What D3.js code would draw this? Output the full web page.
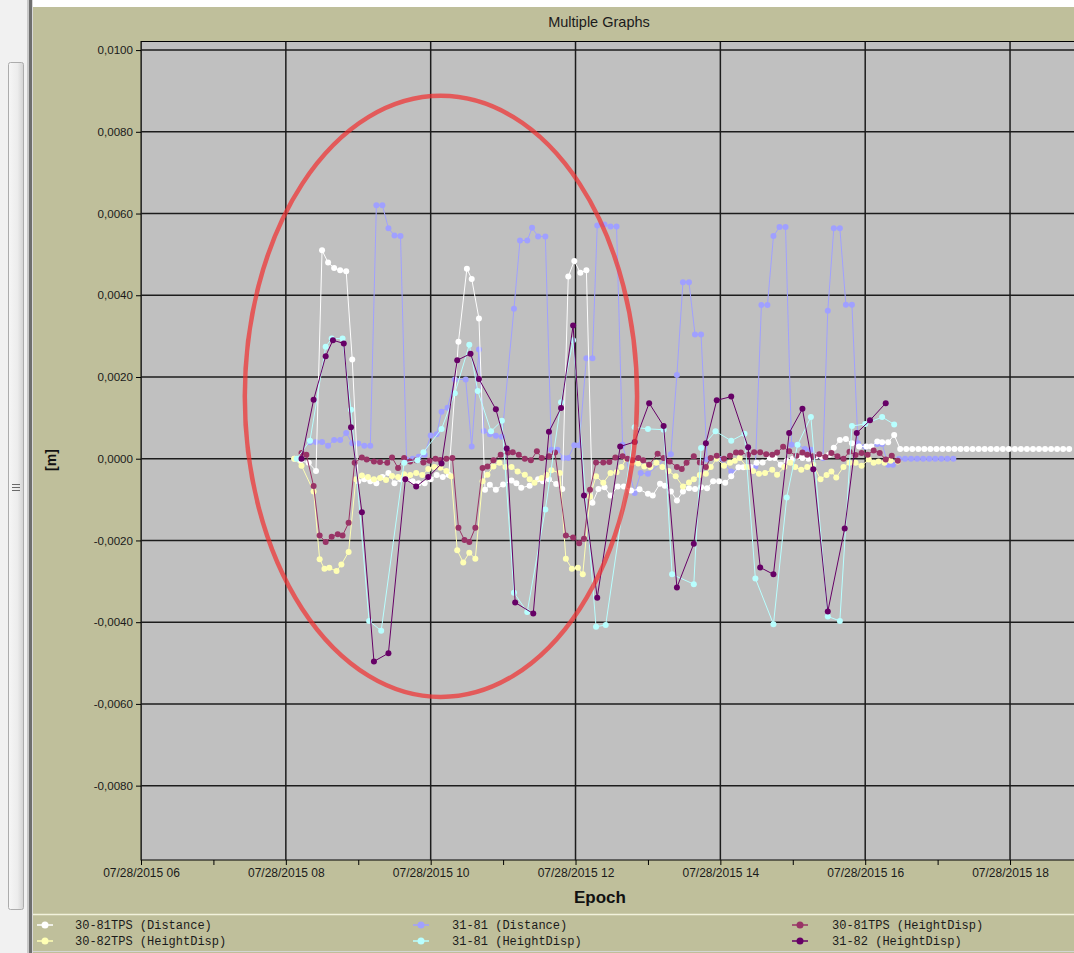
<!DOCTYPE html>
<html lang="en">
<head>
    <meta charset="UTF-8">
    <title>Multiple Graphs</title>
    <script src="https://d3js.org/d3.v7.min.js"></script>
    <style>
        body {
            margin: 0;
            background: #fff;
            overflow: hidden;
        }
        svg {
            display: block;
            font-family: "Liberation Sans", Arial, sans-serif;
        }
        .axis text {
            font-size: 12px;
            fill: #1a1a1a;
        }
        .axis.y text {
            font-size: 11.6px;
        }
        .axis line {
            stroke: #000;
        }
        .legend text {
            font-family: "Liberation Mono", "Courier New", monospace;
            font-size: 12px;
            fill: #1a1a1a;
        }
    </style>
</head>
<body>
<div id="chart"></div>
<script>

    // ---- data (time of day on 07/28/2015, value in m) ----
    var day = "07/28/2015 ";

    // 30-81TPS (Distance)
    var dist3081 = [
        ["08:07", 0.0000], ["08:12", -0.00005], ["08:19", -0.0001], ["08:25", -0.0003],
        ["08:30", 0.0051], ["08:35", 0.0048], ["08:40", 0.00467], ["08:45", 0.00461],
        ["08:50", 0.00459], ["08:55", 0.00243], ["09:00", -0.00055], ["09:05", -0.0005],
        ["09:10", -0.00055], ["09:15", -0.0006], ["09:20", -0.00045], ["09:25", -0.00035],
        ["09:30", -0.0006], ["09:35", -0.0005], ["09:40", -0.0005], ["09:45", -0.00055],
        ["09:50", -0.0006], ["09:55", -0.0006], ["10:00", -0.0005], ["10:05", -0.0004],
        ["10:10", -0.00045], ["10:15", -0.0004], ["10:23", 0.00286], ["10:30", 0.00465],
        ["10:34", 0.0044], ["10:40", 0.00343], ["10:45", -0.00076], ["10:49", -0.00064],
        ["10:54", -0.00076], ["11:00", -0.00063], ["11:07", -0.00053], ["11:11", -0.0006],
        ["11:15", -0.00071], ["11:22", -0.00066], ["11:29", -0.0005], ["11:33", -0.00055],
        ["11:38", -0.0005], ["11:44", -0.00062], ["11:49", -0.00074], ["11:54", 0.00446],
        ["11:59", 0.00484], ["12:04", 0.00455], ["12:09", 0.00461], ["12:14", -0.00108],
        ["12:19", -0.00074], ["12:24", -0.0007], ["12:29", -0.0009], ["12:35", -0.00068],
        ["12:40", -0.00068], ["12:46", -0.00078], ["12:53", -0.00075], ["13:00", -0.00086],
        ["13:04", -0.0009], ["13:10", -0.00061], ["13:14", -0.00066], ["13:19", -0.0008],
        ["13:24", -0.00102], ["13:29", -0.0008], ["13:34", -0.00072], ["13:39", -0.00074],
        ["13:44", -0.0007], ["13:49", -0.00072], ["13:54", -0.00055], ["13:59", -0.00055],
        ["14:04", -0.00059], ["14:09", -0.00043], ["14:15", -0.00021], ["14:19", -0.00021],
        ["14:25", -0.0002], ["14:30", -0.0001], ["14:35", -0.00009], ["14:41", 0.00002],
        ["14:45", 0.00002], ["14:50", -0.00015], ["14:55", -0.00005], ["15:00", 0.0],
        ["15:04", 0.00005], ["15:08", 0.00002], ["15:13", 0.0], ["15:19", 0.00006],
        ["15:24", 0.00005], ["15:30", 0.0001], ["15:34", 0.00027], ["15:39", 0.00046],
        ["15:44", 0.00048], ["15:49", 0.00038], ["15:55", 0.0003], ["16:01", 0.0003],
        ["16:05", 0.0003], ["16:10", 0.00042], ["16:14", 0.0004], ["16:19", 0.0004],
        ["16:24", 0.00058], ["16:29", 0.00024], ["16:34", 0.00024], ["16:39", 0.00024],
        ["16:44", 0.00024], ["16:49", 0.00024], ["16:54", 0.00024], ["16:59", 0.00024],
        ["17:04", 0.00024], ["17:09", 0.00024], ["17:14", 0.00024], ["17:19", 0.00024],
        ["17:24", 0.00024], ["17:29", 0.00024], ["17:34", 0.00024], ["17:39", 0.00024],
        ["17:44", 0.00024], ["17:49", 0.00024], ["17:54", 0.00024], ["17:59", 0.00024],
        ["18:04", 0.00024], ["18:09", 0.00024], ["18:14", 0.00024], ["18:19", 0.00024],
        ["18:24", 0.00024], ["18:29", 0.00024], ["18:34", 0.00024], ["18:39", 0.00024],
        ["18:44", 0.00024], ["18:49", 0.00024]
    ];

    // 31-81 (Distance)
    var dist3181 = [
        ["08:20", 0.0004], ["08:25", 0.00041], ["08:30", 0.00041], ["08:35", 0.00032],
        ["08:40", 0.00046], ["08:45", 0.00046], ["08:50", 0.00063], ["08:55", 0.00038],
        ["09:00", 0.00037], ["09:05", 0.00032], ["09:10", 0.00032], ["09:15", 0.0062],
        ["09:20", 0.0062], ["09:25", 0.00564], ["09:30", 0.00546], ["09:35", 0.00545],
        ["09:40", -0.00002], ["09:45", 0.0], ["09:50", 0.00005], ["09:55", 0.0001],
        ["10:00", 0.00057], ["10:05", 0.0006], ["10:09", 0.00115], ["10:14", 0.00125],
        ["10:20", 0.00194], ["10:29", 0.00194], ["10:34", 0.0003], ["10:40", 0.00267],
        ["10:44", 0.00068], ["10:49", 0.0006], ["10:54", 0.00056], ["10:59", 0.00054],
        ["11:09", 0.00367], ["11:14", 0.00534], ["11:20", 0.00534], ["11:24", 0.00565],
        ["11:29", 0.00544], ["11:35", 0.00544], ["11:40", 0.00022], ["11:45", 0.00022],
        ["11:50", 0.00002], ["11:54", 0.00002], ["11:59", 0.00033], ["12:03", 0.00033],
        ["12:09", 0.00246], ["12:14", 0.00246], ["12:18", 0.00571], ["12:24", 0.00573],
        ["12:29", 0.00568], ["12:34", 0.00568], ["12:39", 0.00034], ["12:49", -0.00084],
        ["12:54", -0.00035], ["13:00", -0.00037], ["13:19", 0.00011], ["13:24", 0.00205],
        ["13:29", 0.00432], ["13:34", 0.00432], ["13:39", 0.00304], ["13:44", 0.00304],
        ["13:49", -0.00002], ["13:59", 0.0], ["14:09", -0.00031], ["14:24", -0.00019],
        ["14:29", -0.00019], ["14:34", 0.00376], ["14:39", 0.00376], ["14:44", 0.00545],
        ["14:49", 0.00567], ["14:54", 0.00567], ["14:59", 0.00034], ["15:04", 0.00034],
        ["15:10", 0.00024], ["15:15", 0.00022], ["15:20", 0.00007], ["15:25", 0.00002],
        ["15:29", 0.00362], ["15:34", 0.00564], ["15:39", 0.00564], ["15:44", 0.00377],
        ["15:49", 0.00377], ["15:54", 0.00038], ["16:00", 0.00029], ["16:10", 0.00036],
        ["16:14", 0.00036], ["16:19", -0.00015], ["16:23", -0.00015], ["16:28", 0.0],
        ["16:33", 0.0], ["16:38", 0.0], ["16:43", 0.0], ["16:48", 0.0], ["16:53", 0.0],
        ["16:58", 0.0], ["17:03", 0.0], ["17:08", 0.0], ["17:13", 0.0]
    ];

    // 30-81TPS (HeightDisp)
    var hd3081 = [
        ["08:13", 0.00014], ["08:17", 0.0001], ["08:23", -0.00067], ["08:28", -0.00188],
        ["08:33", -0.00204], ["08:38", -0.00191], ["08:43", -0.00185], ["08:47", -0.00188],
        ["08:52", -0.00157], ["08:57", -0.0001], ["09:03", 0.00003], ["09:07", -0.00002],
        ["09:13", -0.00007], ["09:18", -0.00008], ["09:24", -0.0001], ["09:28", 0.00003],
        ["09:33", -0.00023], ["09:38", 0.00002], ["09:43", -0.00007], ["09:48", -0.00004],
        ["09:54", -0.00009], ["09:59", -0.00005], ["10:04", 0.0], ["10:08", -0.00003],
        ["10:13", 0.0], ["10:18", 0.00002], ["10:23", -0.00169], ["10:28", -0.00199],
        ["10:32", -0.00204], ["10:37", -0.00169], ["10:43", -0.00023], ["10:47", -0.00019],
        ["10:52", -0.00004], ["10:58", 0.0001], ["11:04", 0.00015], ["11:08", 0.00016],
        ["11:13", 0.0001], ["11:18", 0.0], ["11:23", -0.00004], ["11:28", 0.00018],
        ["11:32", 0.00002], ["11:38", 0.00006], ["11:43", 0.00015], ["11:52", -0.00188],
        ["11:58", -0.00193], ["12:03", -0.00207], ["12:07", -0.00196], ["12:12", -0.00076],
        ["12:17", -0.00009], ["12:23", -0.00009], ["12:28", -0.00008], ["12:33", 0.00003],
        ["12:39", 0.00006], ["12:43", 0.0], ["12:47", -0.00004], ["12:52", 0.00002],
        ["12:56", -0.00004], ["13:01", -0.00015], ["13:08", 0.00012], ["13:13", 0.00002],
        ["13:18", -0.00007], ["13:24", -0.0002], ["13:28", -0.00025], ["13:32", -0.0001],
        ["13:38", 0.00006], ["13:43", -0.00009], ["13:48", -0.0002], ["13:52", 0.00002],
        ["13:57", 0.00007], ["14:03", 0.0], ["14:08", 0.00007], ["14:13", 0.00015],
        ["14:17", 0.00015], ["14:23", 0.0001], ["14:28", 0.00016], ["14:33", 0.00016],
        ["14:38", 0.00011], ["14:43", 0.0001], ["14:47", 0.00015], ["14:52", 0.00029],
        ["14:57", 0.00018], ["15:03", 0.00007], ["15:08", 0.00015], ["15:12", 0.0001],
        ["15:17", 0.00006], ["15:22", 0.00011], ["15:27", 0.00004], ["15:32", 0.00014],
        ["15:37", 0.00006], ["15:42", 0.0], ["15:47", 0.00017], ["15:52", 0.00009],
        ["15:57", 0.00014], ["16:02", 0.0001], ["16:07", 0.0002], ["16:12", 0.00014],
        ["16:17", -0.00002], ["16:22", 0.00007], ["16:27", -0.00005]
    ];

    // 30-82TPS (HeightDisp)
    var hd3082 = [
        ["08:07", 0.0], ["08:13", -0.00017], ["08:23", -0.0008], ["08:28", -0.00246],
        ["08:32", -0.00269], ["08:36", -0.00267], ["08:42", -0.00275], ["08:46", -0.00259],
        ["08:52", -0.00228], ["08:58", -0.0005], ["09:03", -0.00041], ["09:08", -0.00045],
        ["09:13", -0.0005], ["09:18", -0.00047], ["09:23", -0.00052], ["09:28", -0.00042],
        ["09:33", -0.00045], ["09:38", -0.00038], ["09:43", -0.0004], ["09:48", -0.00035],
        ["09:53", -0.0004], ["09:58", -0.00025], ["10:03", -0.0002], ["10:08", -0.00022],
        ["10:13", -0.0003], ["10:17", -0.00043], ["10:22", -0.00224], ["10:27", -0.00254],
        ["10:32", -0.0023], ["10:37", -0.00245], ["10:43", -0.00055], ["10:47", -0.00039],
        ["10:52", -0.00019], ["10:57", -0.0001], ["11:02", -0.0002], ["11:07", -0.0002],
        ["11:12", -0.00031], ["11:18", -0.00039], ["11:22", -0.0005], ["11:26", -0.00059],
        ["11:32", -0.00047], ["11:36", -0.0004], ["11:40", -0.00028], ["11:47", -0.00035],
        ["11:52", -0.00245], ["11:57", -0.00269], ["12:02", -0.00267], ["12:06", -0.00283],
        ["12:12", -0.00093], ["12:17", -0.00043], ["12:23", -0.00059], ["12:29", -0.00035],
        ["12:34", -0.00033], ["12:38", -0.0002], ["12:42", 0.0], ["12:47", -0.0001],
        ["12:52", -0.00012], ["12:57", -0.00019], ["13:02", -0.0002], ["13:07", -0.0001],
        ["13:12", -0.0002], ["13:17", -0.0003], ["13:23", -0.00043], ["13:29", -0.00068],
        ["13:34", -0.00058], ["13:38", -0.0005], ["13:43", -0.0004], ["13:48", -0.00037],
        ["13:52", -0.0002], ["13:57", 0.0], ["14:03", -0.00017], ["14:08", -0.0001],
        ["14:12", -0.00005], ["14:16", 0.00002], ["14:22", -0.0002], ["14:27", -0.0003],
        ["14:32", -0.00037], ["14:37", -0.00035], ["14:43", -0.00027], ["14:47", -0.00039],
        ["14:53", -0.0002], ["14:58", -0.0001], ["15:02", -0.0002], ["15:07", -0.00027],
        ["15:12", -0.0002], ["15:17", -0.00015], ["15:23", -0.0005], ["15:28", -0.0004],
        ["15:32", -0.00031], ["15:36", -0.00046], ["15:42", -0.0002], ["15:47", -0.0001],
        ["15:52", -0.0001], ["15:57", -0.00017], ["16:03", -0.00002], ["16:07", -0.0001],
        ["16:11", -0.00007], ["16:16", -0.0001], ["16:21", -0.00005], ["16:27", -0.00007]
    ];

    // 31-81 (HeightDisp)
    var hd3181 = [
        ["08:09", 0.0], ["08:20", 0.00044], ["08:33", 0.00274], ["08:38", 0.00294],
        ["08:47", 0.00294], ["08:54", 0.0012], ["09:09", -0.00397], ["09:19", -0.00421],
        ["09:38", -0.0001], ["09:49", -0.00004], ["09:54", 0.00016], ["10:09", 0.00073],
        ["10:20", 0.0016], ["10:32", 0.00279], ["10:39", 0.00166], ["10:50", 0.00067],
        ["10:59", 0.00093], ["11:09", -0.00328], ["11:20", -0.00375], ["11:35", -0.00124],
        ["11:48", 0.00138], ["11:58", 0.0029], ["12:17", -0.00411], ["12:25", -0.00407],
        ["12:49", 0.00077], ["13:00", 0.00073], ["13:13", 0.00071], ["13:20", -0.00283],
        ["13:38", -0.00307], ["13:44", 0.00026], ["13:56", 0.00067], ["14:09", 0.00044],
        ["14:20", 0.00061], ["14:29", -0.00293], ["14:44", -0.00405], ["14:55", -0.00095],
        ["15:04", 0.00034], ["15:15", 0.00102], ["15:29", -0.00386], ["15:39", -0.00397],
        ["15:49", 0.0008], ["16:00", 0.00085], ["16:14", 0.00102], ["16:24", 0.00084]
    ];

    // 31-82 (HeightDisp)
    var hd3182 = [
        ["08:13", 0.0], ["08:23", 0.00144], ["08:33", 0.00251], ["08:39", 0.0029],
        ["08:48", 0.00282], ["08:54", 0.00077], ["09:03", -0.00131], ["09:13", -0.00496],
        ["09:25", -0.00476], ["09:39", -0.0005], ["09:48", -0.00068], ["09:58", -0.00045],
        ["10:09", -0.00012], ["10:22", 0.00241], ["10:33", 0.00257], ["10:40", 0.00195],
        ["10:54", 0.00121], ["11:03", 0.00025], ["11:10", -0.00352], ["11:25", -0.00379],
        ["11:38", 0.00066], ["11:48", 0.00124], ["11:58", 0.00326], ["12:07", -0.0009],
        ["12:18", -0.0034], ["12:37", 0.0003], ["12:49", 0.00041], ["13:01", 0.00136],
        ["13:13", 0.0008], ["13:24", -0.00315], ["13:38", -0.00208], ["13:48", 0.00038],
        ["13:57", 0.00143], ["14:09", 0.00152], ["14:23", 0.00028], ["14:33", -0.00266],
        ["14:44", -0.00283], ["14:57", 0.00063], ["15:08", 0.00122], ["15:17", -0.00026],
        ["15:29", -0.00374], ["15:43", -0.00171], ["15:53", 0.00063], ["16:04", 0.00094],
        ["16:17", 0.00136]
    ];

    var seriesNames = ["30-81TPS (Distance)", "30-82TPS (HeightDisp)", "31-81 (Distance)",
        "31-81 (HeightDisp)", "30-81TPS (HeightDisp)", "31-82 (HeightDisp)"];
    var seriesColors = ["#ffffff", "#ffffb4", "#a0a0ff", "#b8ffff", "#993366", "#660066"];
    var seriesData = [dist3081, hd3082, dist3181, hd3181, hd3081, hd3182];
    var drawOrder = [2, 0, 1, 4, 3, 5];

    var yTicks = [-0.008, -0.006, -0.004, -0.002, 0, 0.002, 0.004, 0.006, 0.008, 0.010];
    var yDomain = [-0.00982, 0.01021];
    var xDomain = ["06:00", "19:00"];

    // highlighted region (red ellipse) in data units
    var markTime = ["07:26", "12:51"];
    var markValue = [-0.00583, 0.00888];

    // ---- layout ----
    var width = 1074, height = 953;
    var plot = {left: 141, top: 41.5, bottom: 860};

    var parseTime = d3.timeParse("%m/%d/%Y %H:%M");
    function t(s) { return parseTime(day + s); }

    var locale = d3.formatLocale({decimal: ",", thousands: ".", grouping: [3], currency: ["", ""], minus: "-"});
    var fmtY = locale.format(".4f");
    var fmtX = d3.timeFormat("%m/%d/%Y %H");

    var x = d3.scaleTime()
        .domain(xDomain.map(t))
        .range([plot.left, plot.left + 13 * 72.42]);

    var y = d3.scaleLinear()
        .domain(yDomain)
        .range([plot.bottom, plot.top]);

    var svg = d3.select("#chart").append("svg")
        .attr("width", width)
        .attr("height", height);

    var defs = svg.append("defs");
    var grad = defs.append("linearGradient").attr("id", "thumb");
    grad.append("stop").attr("offset", "0%").attr("stop-color", "#f6f6f6");
    grad.append("stop").attr("offset", "60%").attr("stop-color", "#ececec");
    grad.append("stop").attr("offset", "100%").attr("stop-color", "#d2d2d2");

    defs.append("clipPath").attr("id", "clip")
        .append("rect")
        .attr("x", plot.left).attr("y", plot.top)
        .attr("width", width - plot.left).attr("height", plot.bottom - plot.top);

    // window frame: scrollbar on the left
    svg.append("rect").attr("width", width).attr("height", height).attr("fill", "#fff");
    svg.append("rect").attr("x", 0).attr("y", 0).attr("width", 29).attr("height", height).attr("fill", "#f1f1f1");
    svg.append("rect").attr("x", 8.5).attr("y", 62.5).attr("width", 15).attr("height", 847)
        .attr("rx", 2).attr("fill", "url(#thumb)").attr("stroke", "#acacac");
    [484, 487, 490].forEach(function (gy) {
        svg.append("line").attr("x1", 12).attr("x2", 20).attr("y1", gy + 0.5).attr("y2", gy + 0.5)
            .attr("stroke", "#6a6a6a");
    });
    svg.append("rect").attr("x", 27).attr("y", 0).attr("width", 2).attr("height", height).attr("fill", "#c8c8c8");
    svg.append("rect").attr("x", 29).attr("y", 0).attr("width", 3).attr("height", height).attr("fill", "#6e6e6e");
    svg.append("rect").attr("x", 32).attr("y", 0).attr("width", 1).attr("height", height).attr("fill", "#d8d8d8");

    // chart panel
    svg.append("rect").attr("x", 33).attr("y", 7).attr("width", width - 33).attr("height", height - 7)
        .attr("fill", "#bfbf9b");

    // plot background
    svg.append("rect")
        .attr("x", plot.left).attr("y", plot.top)
        .attr("width", width - plot.left + 20).attr("height", plot.bottom - plot.top)
        .attr("fill", "#c0c0c0")
        .attr("stroke", "#000");

    // grid
    var grid = svg.append("g").attr("clip-path", "url(#clip)");
    grid.selectAll(".hgrid").data(yTicks).enter().append("line")
        .attr("x1", plot.left).attr("x2", width)
        .attr("y1", function (d) { return y(d); }).attr("y2", function (d) { return y(d); })
        .attr("stroke", "#1c1c1c").attr("stroke-width", 1.5);
    var majorX = d3.timeHour.every(2).range(t("06:00"), t("19:00"));
    grid.selectAll(".vgrid").data(majorX).enter().append("line")
        .attr("x1", function (d) { return x(d); }).attr("x2", function (d) { return x(d); })
        .attr("y1", plot.top).attr("y2", plot.bottom)
        .attr("stroke", "#1c1c1c").attr("stroke-width", 1.5);

    // axes
    var yAxis = svg.append("g")
        .attr("class", "axis y")
        .attr("transform", "translate(" + plot.left + ",0)")
        .call(d3.axisLeft(y).tickValues(yTicks).tickSize(5).tickPadding(3).tickFormat(fmtY));
    yAxis.select(".domain").remove();

    var xAxis = svg.append("g")
        .attr("class", "axis x")
        .attr("transform", "translate(0," + plot.bottom + ")")
        .call(d3.axisBottom(x)
            .tickValues(d3.timeHour.every(1).range(t("06:00"), t("19:00")))
            .tickSize(5).tickPadding(3)
            .tickFormat(function (d) { return d.getHours() % 2 === 0 ? fmtX(d) : ""; }));
    xAxis.select(".domain").remove();

    // series
    var line = d3.line()
        .x(function (d) { return x(t(d[0])); })
        .y(function (d) { return y(d[1]); });

    var gSeries = svg.append("g").attr("clip-path", "url(#clip)");
    drawOrder.forEach(function (i) {
        var g = gSeries.append("g");
        g.append("path")
            .datum(seriesData[i])
            .attr("d", line)
            .attr("fill", "none")
            .attr("stroke", seriesColors[i])
            .attr("stroke-width", 1);
        g.selectAll("circle").data(seriesData[i]).enter().append("circle")
            .attr("cx", function (d) { return x(t(d[0])); })
            .attr("cy", function (d) { return y(d[1]); })
            .attr("r", 3)
            .attr("fill", seriesColors[i]);
    });

    // red ellipse annotation
    var ex0 = x(t(markTime[0])), ex1 = x(t(markTime[1]));
    var ey0 = y(markValue[1]), ey1 = y(markValue[0]);
    svg.append("ellipse")
        .attr("cx", (ex0 + ex1) / 2).attr("cy", (ey0 + ey1) / 2)
        .attr("rx", (ex1 - ex0) / 2).attr("ry", (ey1 - ey0) / 2)
        .attr("fill", "none")
        .attr("stroke", "rgb(240,50,50)")
        .attr("stroke-opacity", 0.72)
        .attr("stroke-width", 4.5);

    // titles
    svg.append("text")
        .attr("x", 599).attr("y", 27)
        .attr("text-anchor", "middle")
        .style("font-size", "14.5px").style("fill", "#1a1a1a")
        .text("Multiple Graphs");

    svg.append("text")
        .attr("x", 600).attr("y", 903)
        .attr("text-anchor", "middle")
        .style("font-size", "17px").style("font-weight", "bold").style("fill", "#111")
        .text("Epoch");

    svg.append("text")
        .attr("transform", "translate(56,460) rotate(-90)")
        .attr("text-anchor", "middle")
        .style("font-size", "14px").style("font-weight", "bold").style("fill", "#111")
        .text("[m]");

    // legend
    svg.append("line").attr("x1", 33).attr("x2", width).attr("y1", 914.5).attr("y2", 914.5)
        .attr("stroke", "#f2f2dc").attr("stroke-width", 1.5);
    svg.append("line").attr("x1", 33).attr("x2", width).attr("y1", 951.5).attr("y2", 951.5)
        .attr("stroke", "#d4d4d4");

    var legendCols = [[45, 75], [421, 452], [800, 832]];
    var legendRows = [925, 941];
    var legendSlots = [[0, 0], [1, 0], [0, 1], [1, 1], [0, 2], [1, 2]];

    var legend = svg.append("g").attr("class", "legend");
    seriesNames.forEach(function (name, i) {
        var row = legendRows[legendSlots[i][0]], col = legendCols[legendSlots[i][1]];
        var g = legend.append("g");
        g.append("line").attr("x1", col[0] - 8).attr("x2", col[0] + 8)
            .attr("y1", row).attr("y2", row)
            .attr("stroke", seriesColors[i]).attr("stroke-width", 1.5);
        g.append("circle").attr("cx", col[0]).attr("cy", row).attr("r", 3.5)
            .attr("fill", seriesColors[i]);
        g.append("text").attr("x", col[1]).attr("y", row + 4).text(name);
    });

</script>
</body>
</html>
